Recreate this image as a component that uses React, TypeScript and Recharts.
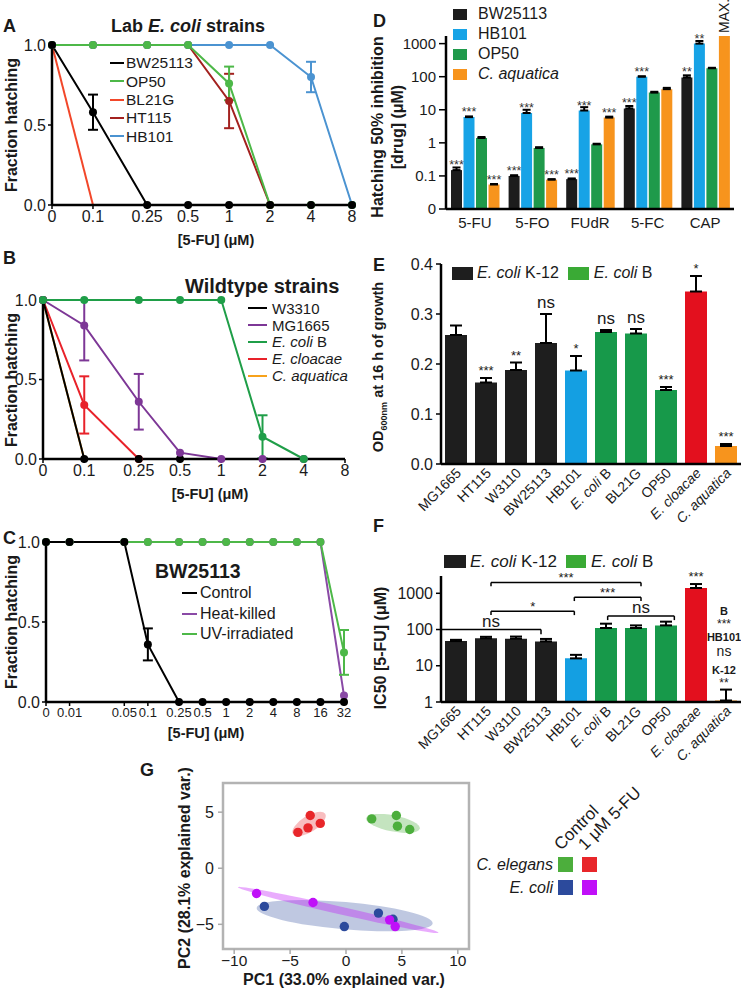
import React from 'react'
import {
  LineChart, Line, XAxis, YAxis, ErrorBar, BarChart, Bar, Cell, LabelList,
  ComposedChart, ScatterChart, Scatter, ReferenceLine, ReferenceArea
} from 'recharts'

const FONT = '"Liberation Sans", Arial, Helvetica, sans-serif'
const INK = '#1a1a1a'
const AXIS = { stroke: '#000', strokeWidth: 2.5 }

// ---------- A: lab E. coli strains ----------
const dosesA = [0, 0.1, 0.25, 0.5, 1, 2, 4, 8]
const bw25113A = [1, 0.58, 0, 0, 0, 0, 0, 0]
const bw25113AErr = [0, 0.11, 0, 0, 0, 0, 0, 0]
const op50A = [1, 1, 1, 1, 0.76, 0, 0, 0]
const op50AErr = [0, 0, 0, 0, 0.105, 0, 0, 0]
const bl21gA = [1, 0, null, null, null, null, null, null]
const ht115A = [1, 1, 1, 1, 0.65, 0, null, null]
const ht115AErr = [0, 0, 0, 0, 0.17, 0, 0, 0]
const hb101A = [1, 1, 1, 1, 1, 1, 0.8, 0]
const hb101AErr = [0, 0, 0, 0, 0, 0, 0.095, 0]

// ---------- B: wildtype strains ----------
const dosesB = [0, 0.1, 0.25, 0.5, 1, 2, 4, 8]
const w3310B = [1, 0, 0, 0, null, null, null, null]
const mg1665B = [1, 0.84, 0.36, 0.04, 0, 0, 0, null]
const mg1665BErr: Err[] = [0, [0.22, 0.16], 0.175, 0, 0, 0, 0, 0]
const ecoliBB = [1, 1, 1, 1, 1, 0.14, 0, null]
const ecoliBBErr = [0, 0, 0, 0, 0, 0.135, 0, 0]
const cloacaeB = [1, 0.34, 0, null, null, null, null, null]
const cloacaeBErr = [0, 0.18, 0, 0, 0, 0, 0, 0]
const aquaticaB = [1, 0, null, null, null, null, null, null]

// ---------- C: BW25113 treatments ----------
const dosesC = [0, 0.01, 0.05, 0.1, 0.25, 0.5, 1, 2, 4, 8, 16, 32]
const controlC = [1, 1, 1, 0.36, 0, 0, 0, 0, 0, 0, 0, 0]
const controlCErr = [0, 0, 0, 0.1, 0, 0, 0, 0, 0, 0, 0, 0]
const heatKilledC = [1, 1, 1, 1, 1, 1, 1, 1, 1, 1, 1, 0.04]
const uvC = [1, 1, 1, 1, 1, 1, 1, 1, 1, 1, 1, 0.31]
const uvCErr = [0, 0, 0, 0, 0, 0, 0, 0, 0, 0, 0, 0.14]

// ---------- D: 50% inhibition per drug ----------
const drugs = ['5-FU', '5-FO', 'FUdR', '5-FC', 'CAP']
const bw25113D = [0.15, 0.1, 0.08, 11, 95]
const bw25113DErr = [0.03, 0.005, 0.004, 2, 15]
const bw25113DSig = ['***', '***', '***', '***', '**']
const hb101D = [6, 8, 9.5, 100, 1000]
const hb101DErr = [0.3, 2, 2.5, 3, 200]
const hb101DSig = ['***', '***', '***', '***', '**']
const op50D = [1.4, 0.7, 0.9, 33, 180]
const op50DErr = [0.1, 0.04, 0.04, 2, 6]
const aquaticaD = [0.055, 0.077, 5.8, 42, 1700]
const aquaticaDErr = [0.002, 0.003, 0.4, 4, 0]
const aquaticaDSig = ['***', '***', '***', '', 'MAX.']
const drugTicks = [0.01, 0.1, 1, 10, 100, 1000]

// ---------- E / F: strains ----------
const strains = ['MG1665', 'HT115', 'W3110', 'BW25113', 'HB101', 'E. coli B', 'BL21G', 'OP50', 'E. cloacae', 'C. aquatica']
const od600 = [0.258, 0.163, 0.188, 0.242, 0.187, 0.264, 0.261, 0.148, 0.345, 0.036]
const od600Err = [0.019, 0.009, 0.015, 0.058, 0.029, 0.004, 0.009, 0.006, 0.031, 0.004]
const od600Sig = ['', '***', '**', 'ns', '*', 'ns', 'ns', '***', '*', '***']
const ic50 = [48, 57, 56, 47, 16, 110, 110, 130, 1400, 1.1]
const ic50Err = [4, 6, 8, 8, 4, 35, 20, 35, 400, 1.1]
const ic50Sig = ['', '', '', '', '', '', '', '', '***', '']
// comparison brackets in F (strain index positions, IC50 heights)
const bracketFrom = [0, 1.5, 1.5, 4, 5]
const bracketTo = [3, 4, 6, 6, 7]
const bracketY = [100, 320, 2000, 780, 235]
const bracketFoot = [74, 250, 1560, 610, 182]
const bracketLabel = ['ns', '*', '***', '***', 'ns']

// ---------- G: PCA ----------
const elegansCtrl = [{ x: 2.3, y: 4.4 }, { x: 4.5, y: 4.7 }, { x: 4.6, y: 3.75 }, { x: 5.7, y: 3.45 }]
const elegans5fu = [{ x: -3.2, y: 4.7 }, { x: -2.3, y: 4.0 }, { x: -3.4, y: 3.6 }, { x: -4.3, y: 3.2 }]
const coliCtrl = [{ x: -7.3, y: -3.4 }, { x: -0.15, y: -5.2 }, { x: 2.9, y: -4.0 }, { x: 4.2, y: -4.55 }]
const coli5fu = [{ x: -8.0, y: -2.25 }, { x: -2.95, y: -3.05 }, { x: 3.9, y: -4.6 }, { x: 4.4, y: -5.2 }]
// confidence ellipses: center, semi-axes, tilt (deg)
const ellipseColiCtrl = [{ x: -0.12, y: -4.23, rx: 7.9, ry: 1.22, angle: -5 }]
const ellipseColi5fu = [{ x: -0.7, y: -3.72, rx: 9.2, ry: 0.34, angle: -12.8 }]
const ellipseElegansCtrl = [{ x: 4.2, y: 4.0, rx: 2.45, ry: 0.72, angle: -11 }]
const ellipseElegans5fu = [{ x: -3.3, y: 3.95, rx: 1.7, ry: 0.72, angle: 32 }]

type Err = number | [number, number] | null
interface DoseSeries {
  key: string
  name: string
  color: string
  values: (number | null)[]
  errs?: Err[]
  dot: boolean
}

const seriesA: DoseSeries[] = [
  { key: 'ht115', name: 'HT115', color: '#a3211f', values: ht115A, errs: ht115AErr, dot: true },
  { key: 'bl21g', name: 'BL21G', color: '#f2472a', values: bl21gA, dot: false },
  { key: 'hb101', name: 'HB101', color: '#4b93d1', values: hb101A, errs: hb101AErr, dot: true },
  { key: 'op50', name: 'OP50', color: '#4db848', values: op50A, errs: op50AErr, dot: true },
  { key: 'bw', name: 'BW25113', color: '#000', values: bw25113A, errs: bw25113AErr, dot: true },
]
const legendA = ['bw', 'op50', 'bl21g', 'ht115', 'hb101']

const seriesB: DoseSeries[] = [
  { key: 'aq', name: 'C. aquatica', color: '#f7a21b', values: aquaticaB, dot: false },
  { key: 'cl', name: 'E. cloacae', color: '#e8222a', values: cloacaeB, errs: cloacaeBErr, dot: true },
  { key: 'w', name: 'W3310', color: '#000', values: w3310B, dot: true },
  { key: 'mg', name: 'MG1665', color: '#7d3796', values: mg1665B, errs: mg1665BErr, dot: true },
  { key: 'eb', name: 'E. coli B', color: '#1f9e48', values: ecoliBB, errs: ecoliBBErr, dot: true },
]
const legendB = ['w', 'mg', 'eb', 'cl', 'aq']

const seriesC: DoseSeries[] = [
  { key: 'hk', name: 'Heat-killed', color: '#8a4aa6', values: heatKilledC, dot: true },
  { key: 'uv', name: 'UV-irradiated', color: '#4db848', values: uvC, errs: uvCErr, dot: true },
  { key: 'ctl', name: 'Control', color: '#000', values: controlC, errs: controlCErr, dot: true },
]
const legendC = ['ctl', 'hk', 'uv']

const K12 = '#1e1e1e'
const BLUE = '#149fe2'
const GREEN = '#17994a'
const LEG_GREEN = '#3aaa35'
const RED = '#e3101e'
const ORANGE = '#f7941d'
const strainColors = [K12, K12, K12, K12, BLUE, GREEN, GREEN, GREEN, RED, ORANGE]

// zero dose sits one doubling left of the lowest dose
function dosePos(d: number, doses: number[]) {
  const min = Math.min(...doses.filter(v => v > 0))
  return d === 0 ? Math.log2(min) - 1 : Math.log2(d)
}

function buildRows(doses: number[], series: DoseSeries[]) {
  return doses.map((d, i) => {
    const row: any = { pos: dosePos(d, doses), dose: d }
    series.forEach(s => {
      row[s.key] = s.values[i]
      const e = s.errs ? s.errs[i] : null
      if (e) row[s.key + 'Err'] = e
    })
    return row
  })
}

function nameParts(name: string): [string, string] {
  if (name.startsWith('E. coli')) return ['E. coli', name.slice(7)]
  if (name === 'E. cloacae' || name === 'C. aquatica') return [name, '']
  return ['', name]
}

function Name({ name }: { name: string }) {
  const [it, rest] = nameParts(name)
  return <span>{it && <i>{it}</i>}{rest}</span>
}

function DoseChart({ doses, series, width, height, margin, xFont }: {
  doses: number[]; series: DoseSeries[]; width: number; height: number; margin: any; xFont: number
}) {
  const rows = buildRows(doses, series)
  const pos = doses.map(d => dosePos(d, doses))
  const label = (v: number) => {
    const i = pos.findIndex(p => Math.abs(p - v) < 1e-6)
    return i >= 0 ? String(doses[i]) : ''
  }
  return (
    <LineChart width={width} height={height} data={rows} margin={margin}>
      <XAxis type="number" dataKey="pos" domain={[pos[0], pos[pos.length - 1]]} ticks={pos}
        interval={0} tickFormatter={label} height={25} axisLine={AXIS}
        tickLine={{ stroke: '#000', strokeWidth: 1.5 }} tickSize={4}
        tick={{ fontSize: xFont, fill: INK, fontFamily: FONT }} />
      <YAxis type="number" domain={[0, 1]} ticks={[0, 0.5, 1]} tickFormatter={(v: number) => v.toFixed(1)}
        width={30} axisLine={AXIS} tickLine={{ stroke: '#000', strokeWidth: 1.5 }} tickSize={4}
        tick={{ fontSize: 16, fill: INK, fontFamily: FONT }} />
      {series.map(s => (
        <Line key={s.key} type="linear" dataKey={s.key} stroke={s.color} strokeWidth={2}
          dot={s.dot ? { r: 4, fill: s.color, stroke: s.color, strokeWidth: 0 } : false}
          activeDot={false} connectNulls={false} isAnimationActive={false}>
          {s.errs && <ErrorBar dataKey={s.key + 'Err'} width={5} stroke={s.color} strokeWidth={2} direction="y" />}
        </Line>
      ))}
    </LineChart>
  )
}

function LineLegend({ series, order, left, top, rowH, fontSize, lineW, gap }: {
  series: DoseSeries[]; order: string[]; left: number; top: number; rowH: number; fontSize: number; lineW: number; gap: number
}) {
  return (
    <div style={{ position: 'absolute', left, top, fontSize, lineHeight: 1 }}>
      {order.map(k => {
        const s = series.find(x => x.key === k)!
        return (
          <div key={k} style={{ display: 'flex', alignItems: 'center', height: rowH, whiteSpace: 'nowrap' }}>
            <span style={{ display: 'inline-block', width: lineW, height: 2, background: s.color, marginRight: gap }} />
            <Name name={s.name} />
          </div>
        )
      })}
    </div>
  )
}

function Abs({ left, top, size, bold, children, center, style }: any) {
  return (
    <div style={{
      position: 'absolute', left, top, fontSize: size, lineHeight: 1, fontWeight: bold ? 'bold' : 'normal',
      whiteSpace: 'nowrap', transform: center ? 'translateX(-50%)' : undefined, ...style
    }}>{children}</div>
  )
}

function RotLabel({ cx, cy, size = 16, children }: any) {
  return (
    <div style={{
      position: 'absolute', left: cx, top: cy, fontSize: size, lineHeight: 1.25, fontWeight: 'bold',
      whiteSpace: 'nowrap', textAlign: 'center', transform: 'translate(-50%, -50%) rotate(-90deg)'
    }}>{children}</div>
  )
}

function SquareLegend({ items, left, top, rowH, fontSize, w, h, gap }: any) {
  return (
    <div style={{ position: 'absolute', left, top, fontSize, lineHeight: 1 }}>
      {items.map((it: any) => (
        <div key={it.name} style={{ display: 'flex', alignItems: 'center', height: rowH, whiteSpace: 'nowrap' }}>
          <span style={{ display: 'inline-block', width: w, height: h, background: it.color, marginRight: gap }} />
          <Name name={it.name} />
        </div>
      ))}
    </div>
  )
}

function StrainTick(props: any) {
  const { x, y, payload } = props
  const [it, rest] = nameParts(String(payload.value))
  return (
    <text transform={`translate(${x + 6},${y + 6}) rotate(-45)`} textAnchor="end" fontSize={14}
      fill={INK} fontFamily={FONT}>
      {it ? <tspan fontStyle="italic">{it}</tspan> : null}{rest}
    </text>
  )
}

function viewOf(props: any) {
  const vb = props.viewBox || props
  return { x: vb.x ?? props.x, y: vb.y ?? props.y, width: vb.width ?? props.width ?? 0 }
}

function DrugSig(props: any) {
  const { value } = props
  if (!value) return null
  const { x, y, width } = viewOf(props)
  const cx = x + width / 2
  if (value === 'MAX.') {
    return (
      <text x={cx} y={y - 3} dy="0.36em" transform={`rotate(-90 ${cx} ${y - 3})`} fontSize={14}
        fill={INK} fontFamily={FONT}>{value}</text>
    )
  }
  return <text x={cx} y={y - 1} textAnchor="middle" fontSize={12.5} fill="#333" fontFamily={FONT}>{value}</text>
}

function StrainSig(props: any) {
  const { value } = props
  if (!value) return null
  const { x, y } = viewOf(props)
  const ns = value === 'ns'
  return (
    <text x={x} y={y - (ns ? 6 : 3)} textAnchor="middle" fontSize={ns ? 17 : 13} fill={INK} fontFamily={FONT}>{value}</text>
  )
}

// G chart geometry (plot box is drawn through the scales; these only size the ellipses)
const G_W = 330, G_H = 223
const G_MARGIN = { top: 13, right: 11, bottom: 19, left: 43 }
const G_YW = 30, G_XH = 25
const G_XDOM: [number, number] = [-11, 11]
const G_YDOM: [number, number] = [-7.2, 7.6]
const G_KX = (G_W - G_MARGIN.left - G_MARGIN.right - G_YW) / (G_XDOM[1] - G_XDOM[0])
const G_KY = (G_H - G_MARGIN.top - G_MARGIN.bottom - G_XH) / (G_YDOM[1] - G_YDOM[0])

function EllipseShape(props: any) {
  const { cx, cy, payload, fill } = props
  return (
    <ellipse cx={cx} cy={cy} rx={payload.rx * G_KX} ry={payload.ry * G_KY}
      transform={`rotate(${-payload.angle} ${cx} ${cy})`} fill={fill} />
  )
}

const minus = (v: number) => (v < 0 ? `\u2212${-v}` : `${v}`)

export default function App() {
  const rowsD = drugs.map((d, i) => ({
    drug: d,
    bw: bw25113D[i], bwErr: [0, bw25113DErr[i]], bwSig: bw25113DSig[i],
    hb: hb101D[i], hbErr: [0, hb101DErr[i]], hbSig: hb101DSig[i],
    op: op50D[i], opErr: [0, op50DErr[i]],
    aq: aquaticaD[i], aqErr: aquaticaDErr[i] ? [0, aquaticaDErr[i]] : undefined, aqSig: aquaticaDSig[i],
  }))
  const rowsE = strains.map((s, i) => ({
    strain: s, od: od600[i], odErr: [0, od600Err[i]], top: od600[i] + od600Err[i], sig: od600Sig[i],
  }))
  const rowsF = strains.map((s, i) => ({
    strain: s, ic: ic50[i], icErr: [0, ic50Err[i]], top: ic50[i] + ic50Err[i], sig: ic50Sig[i],
  }))
  const tickStyle = { fontSize: 16, fill: INK, fontFamily: FONT }
  const gGroups = [
    { pts: coliCtrl, ell: ellipseColiCtrl, color: '#2c4a9c', fill: 'rgba(44,74,156,0.3)' },
    { pts: coli5fu, ell: ellipseColi5fu, color: '#c010f8', fill: 'rgba(192,16,248,0.35)' },
    { pts: elegansCtrl, ell: ellipseElegansCtrl, color: '#4cae3c', fill: 'rgba(76,174,60,0.33)' },
    { pts: elegans5fu, ell: ellipseElegans5fu, color: '#e8262a', fill: 'rgba(232,38,42,0.3)' },
  ]

  return (
    <div style={{
      position: 'absolute', left: 0, top: 0, width: 741, height: 993, overflow: 'hidden',
      background: '#fff', fontFamily: FONT, color: INK
    }}>
      {/* ---------------- A ---------------- */}
      <div style={{ position: 'absolute', left: 0, top: 0 }}>
        <DoseChart doses={dosesA} series={seriesA} width={370} height={245} xFont={16}
          margin={{ top: 45, right: 18, bottom: 15, left: 22 }} />
      </div>
      <Abs left={3} top={17} size={18} bold>A</Abs>
      <Abs left={188} top={17} size={18} bold center>Lab <i>E. coli</i> strains</Abs>
      <LineLegend series={seriesA} order={legendA} left={110} top={54} rowH={18.3} fontSize={15.5} lineW={14} gap={2} />
      <RotLabel cx={12} cy={125}>Fraction hatching</RotLabel>
      <Abs left={216} top={233} size={14.5} bold center>[5-FU] (μM)</Abs>

      {/* ---------------- B ---------------- */}
      <div style={{ position: 'absolute', left: 0, top: 250 }}>
        <DoseChart doses={dosesB} series={seriesB} width={370} height={250} xFont={16}
          margin={{ top: 50, right: 25, bottom: 16, left: 13 }} />
      </div>
      <Abs left={3} top={249} size={18} bold>B</Abs>
      <Abs left={185} top={276} size={20} bold>Wildtype strains</Abs>
      <LineLegend series={seriesB} order={legendB} left={248} top={300} rowH={16.8} fontSize={15} lineW={19} gap={5} />
      <RotLabel cx={12} cy={380}>Fraction hatching</RotLabel>
      <Abs left={210} top={487} size={14.5} bold center>[5-FU] (μM)</Abs>

      {/* ---------------- C ---------------- */}
      <div style={{ position: 'absolute', left: 0, top: 500 }}>
        <DoseChart doses={dosesC} series={seriesC} width={370} height={250} xFont={13}
          margin={{ top: 42, right: 26, bottom: 23, left: 16 }} />
      </div>
      <Abs left={3} top={529} size={18} bold>C</Abs>
      <Abs left={155} top={562} size={19.5} bold>BW25113</Abs>
      <LineLegend series={seriesC} order={legendC} left={182} top={583} rowH={20.5} fontSize={16} lineW={15} gap={3} />
      <RotLabel cx={12} cy={622}>Fraction hatching</RotLabel>
      <Abs left={206} top={726} size={14.5} bold center>[5-FU] (μM)</Abs>

      {/* ---------------- D ---------------- */}
      <div style={{ position: 'absolute', left: 370, top: 0 }}>
        <BarChart width={371} height={250} data={rowsD} margin={{ top: 36, right: 7, bottom: 16, left: 36 }}
          barCategoryGap={5} barGap={1.5}>
          <XAxis dataKey="drug" interval={0} height={25} axisLine={AXIS} tickLine={false}
            tick={{ fontSize: 15, fill: INK, fontFamily: FONT }} />
          <YAxis scale="log" domain={[0.01, 1700]} ticks={drugTicks} interval={0} width={40}
            tickFormatter={(v: number) => (v === 0.01 ? '0' : String(v))}
            axisLine={AXIS} tickLine={{ stroke: '#000', strokeWidth: 1.5 }} tickSize={7} tickMargin={3}
            tick={{ fontSize: 15, fill: INK, fontFamily: FONT }} />
          <Bar dataKey="bw" fill="#1c1c1c" isAnimationActive={false}>
            <ErrorBar dataKey="bwErr" width={4} stroke="#000" strokeWidth={2} direction="y" />
            <LabelList dataKey="bwSig" content={DrugSig} />
          </Bar>
          <Bar dataKey="hb" fill="#17a3e6" isAnimationActive={false}>
            <ErrorBar dataKey="hbErr" width={4} stroke="#000" strokeWidth={2} direction="y" />
            <LabelList dataKey="hbSig" content={DrugSig} />
          </Bar>
          <Bar dataKey="op" fill="#1f9a4b" isAnimationActive={false}>
            <ErrorBar dataKey="opErr" width={4} stroke="#000" strokeWidth={2} direction="y" />
          </Bar>
          <Bar dataKey="aq" fill={ORANGE} isAnimationActive={false}>
            <ErrorBar dataKey="aqErr" width={4} stroke="#000" strokeWidth={2} direction="y" />
            <LabelList dataKey="aqSig" content={DrugSig} />
          </Bar>
        </BarChart>
      </div>
      <Abs left={373} top={12} size={18} bold>D</Abs>
      <SquareLegend left={453} top={4} rowH={20} fontSize={16} w={14} h={11} gap={11}
        items={[{ name: 'BW25113', color: '#1c1c1c' }, { name: 'HB101', color: '#17a3e6' },
          { name: 'OP50', color: '#1f9a4b' }, { name: 'C. aquatica', color: ORANGE }]} />
      <RotLabel cx={388} cy={127}>Hatching 50% inhibition<br />[drug] (μM)</RotLabel>

      {/* ---------------- E ---------------- */}
      <div style={{ position: 'absolute', left: 370, top: 255 }}>
        <ComposedChart width={371} height={282} data={rowsE} margin={{ top: 9, right: 0, bottom: 12, left: 30 }}
          barCategoryGap={4}>
          <XAxis dataKey="strain" interval={0} height={61} axisLine={AXIS} tickLine={false} tickSize={2}
            tick={(p: any) => <StrainTick {...p} />} />
          <YAxis domain={[0, 0.4]} ticks={[0, 0.1, 0.2, 0.3, 0.4]} interval={0} width={41}
            tickFormatter={(v: number) => v.toFixed(1)} axisLine={AXIS}
            tickLine={{ stroke: '#000', strokeWidth: 1.5 }} tickSize={5} tickMargin={3} tick={tickStyle} />
          <Bar dataKey="od" isAnimationActive={false}>
            {rowsE.map((r, i) => <Cell key={r.strain} fill={strainColors[i]} />)}
            <ErrorBar dataKey="odErr" width={6} stroke="#000" strokeWidth={2} direction="y" />
          </Bar>
          <Line dataKey="top" stroke="none" dot={false} activeDot={false} isAnimationActive={false} legendType="none">
            <LabelList dataKey="sig" content={StrainSig} />
          </Line>
        </ComposedChart>
      </div>
      <Abs left={373} top={256} size={18} bold>E</Abs>
      <div style={{ position: 'absolute', left: 452, top: 265, display: 'flex', alignItems: 'center', fontSize: 16, lineHeight: 1, whiteSpace: 'nowrap' }}>
        <span style={{ display: 'inline-block', width: 21, height: 13, background: K12, marginRight: 4 }} />
        <Name name="E. coli K-12" />
        <span style={{ display: 'inline-block', width: 21, height: 13, background: LEG_GREEN, marginLeft: 9, marginRight: 5 }} />
        <Name name="E. coli B" />
      </div>
      <RotLabel cx={380} cy={367} size={14.5}>OD<sub style={{ fontSize: 9 }}>600nm</sub> at 16 h of growth</RotLabel>

      {/* ---------------- F ---------------- */}
      <div style={{ position: 'absolute', left: 370, top: 540 }}>
        <ComposedChart width={371} height={234} data={rowsF} margin={{ top: 36, right: 0, bottom: 12, left: 30 }}
          barCategoryGap={4}>
          <XAxis dataKey="strain" interval={0} height={60} axisLine={AXIS} tickLine={false} tickSize={2}
            tick={(p: any) => <StrainTick {...p} />} />
          <XAxis xAxisId="n" type="number" domain={[-0.5, 9.5]} hide allowDataOverflow />
          <YAxis scale="log" domain={[1, 3000]} ticks={[1, 10, 100, 1000]} interval={0} width={41}
            axisLine={AXIS} tickLine={{ stroke: '#000', strokeWidth: 1.5 }} tickSize={5} tickMargin={3}
            tick={tickStyle} />
          <Bar dataKey="ic" isAnimationActive={false}>
            {rowsF.map((r, i) => <Cell key={r.strain} fill={strainColors[i]} />)}
            <ErrorBar dataKey="icErr" width={6} stroke="#000" strokeWidth={2} direction="y" />
          </Bar>
          <Line dataKey="top" stroke="none" dot={false} activeDot={false} isAnimationActive={false} legendType="none">
            <LabelList dataKey="sig" content={StrainSig} />
          </Line>
          {bracketLabel.map((lab, i) => (
            <React.Fragment key={i}>
              <ReferenceLine xAxisId="n" stroke="#000" strokeWidth={1.5}
                segment={[{ x: bracketFrom[i], y: bracketY[i] }, { x: bracketTo[i], y: bracketY[i] }]}
                label={{ value: lab, position: 'top', offset: lab === 'ns' ? 3 : 0, fontSize: lab === 'ns' ? 17 : 13, fill: INK, fontFamily: FONT }} />
              <ReferenceLine xAxisId="n" stroke="#000" strokeWidth={1.5}
                segment={[{ x: bracketFrom[i], y: bracketY[i] }, { x: bracketFrom[i], y: bracketFoot[i] }]} />
              <ReferenceLine xAxisId="n" stroke="#000" strokeWidth={1.5}
                segment={[{ x: bracketTo[i], y: bracketY[i] }, { x: bracketTo[i], y: bracketFoot[i] }]} />
            </React.Fragment>
          ))}
        </ComposedChart>
      </div>
      <Abs left={373} top={517} size={18} bold>F</Abs>
      <div style={{ position: 'absolute', left: 444, top: 553, display: 'flex', alignItems: 'center', fontSize: 17, lineHeight: 1, whiteSpace: 'nowrap' }}>
        <span style={{ display: 'inline-block', width: 22, height: 13, background: K12, marginRight: 4 }} />
        <Name name="E. coli K-12" />
        <span style={{ display: 'inline-block', width: 20, height: 13, background: LEG_GREEN, marginLeft: 9, marginRight: 5 }} />
        <Name name="E. coli B" />
      </div>
      <RotLabel cx={381} cy={648}>IC50 [5-FU] (μM)</RotLabel>
      <Abs left={724} top={606} size={11} bold center>B</Abs>
      <Abs left={724} top={618} size={12} center>***</Abs>
      <Abs left={724} top={632} size={11} bold center>HB101</Abs>
      <Abs left={724} top={644} size={14} center>ns</Abs>
      <Abs left={724} top={665} size={11} bold center>K-12</Abs>
      <Abs left={724} top={677} size={12} center>**</Abs>

      {/* ---------------- G ---------------- */}
      <div style={{ position: 'absolute', left: 150, top: 770 }}>
        <ScatterChart width={G_W} height={G_H} margin={G_MARGIN}>
          <XAxis type="number" dataKey="x" domain={G_XDOM} ticks={[-10, -5, 0, 5, 10]} interval={0}
            tickFormatter={minus} height={G_XH} axisLine={false} tickMargin={1}
            tickLine={{ stroke: '#aaa', strokeWidth: 1.5 }} tickSize={5} tick={{ ...tickStyle, fontSize: 15.5 }} />
          <YAxis type="number" dataKey="y" domain={G_YDOM} ticks={[-5, 0, 5]} interval={0}
            tickFormatter={minus} width={G_YW} axisLine={false}
            tickLine={{ stroke: '#aaa', strokeWidth: 1.5 }} tickSize={5} tickMargin={4} tick={tickStyle} />
          {gGroups.map((g, i) => (
            <Scatter key={'e' + i} data={g.ell} fill={g.fill} shape={EllipseShape} isAnimationActive={false} />
          ))}
          {gGroups.map((g, i) => (
            <Scatter key={'p' + i} data={g.pts} fill={g.color} isAnimationActive={false}
              shape={(p: any) => <circle cx={p.cx} cy={p.cy} r={4.7} fill={g.color} />} />
          ))}
          <ReferenceArea x1={G_XDOM[0]} x2={G_XDOM[1]} y1={G_YDOM[0]} y2={G_YDOM[1]}
            fill="none" stroke="#b3b3b3" strokeWidth={2.5} ifOverflow="visible" />
        </ScatterChart>
      </div>
      <Abs left={140} top={761} size={18} bold>G</Abs>
      <Abs left={344} top={972} size={16} bold center>PC1 (33.0% explained var.)</Abs>
      <RotLabel cx={185} cy={868}>PC2 (28.1% explained var.)</RotLabel>
      <Abs left={563} top={836} size={17} style={{ transform: 'rotate(-45deg)', transformOrigin: 'left bottom' }}>Control</Abs>
      <Abs left={587} top={836} size={17} style={{ transform: 'rotate(-45deg)', transformOrigin: 'left bottom' }}>1 μM 5-FU</Abs>
      <div style={{ position: 'absolute', left: 558, top: 857, width: 15, height: 15, background: '#4cae3c' }} />
      <div style={{ position: 'absolute', left: 582, top: 857, width: 15, height: 15, background: '#e8262a' }} />
      <div style={{ position: 'absolute', left: 558, top: 880, width: 15, height: 15, background: '#2c4a9c' }} />
      <div style={{ position: 'absolute', left: 582, top: 880, width: 15, height: 15, background: '#c010f8' }} />
      <Abs left={553} top={857} size={16} style={{ transform: 'translateX(-100%)' }}><i>C. elegans</i></Abs>
      <Abs left={553} top={880} size={16} style={{ transform: 'translateX(-100%)' }}><i>E. coli</i></Abs>
    </div>
  )
}
